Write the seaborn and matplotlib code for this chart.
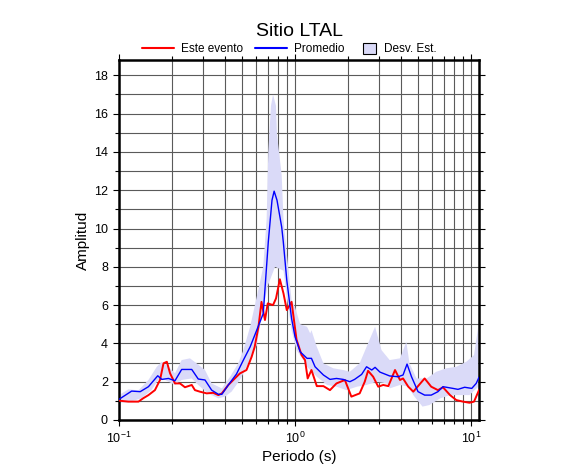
"""Site response spectrum: event vs. average with std band."""

import matplotlib

matplotlib.use("Agg")
import matplotlib.pyplot as plt
import numpy as np
import pandas as pd
import seaborn as sns
from matplotlib.lines import Line2D
from matplotlib.patches import Patch
from matplotlib.ticker import LogLocator, MultipleLocator

TITLE = "Sitio LTAL"

# Este evento (red)
event_period = [0.100, 0.113, 0.129, 0.137, 0.147, 0.160, 0.171, 0.179, 0.187, 0.195,
                0.208, 0.222, 0.237, 0.259, 0.270, 0.288, 0.315, 0.343, 0.367, 0.384,
                0.418, 0.446, 0.486, 0.530, 0.567, 0.590, 0.620, 0.645, 0.675, 0.700,
                0.750, 0.780, 0.820, 0.860, 0.898, 0.956, 1.02, 1.09, 1.14, 1.18,
                1.24, 1.33, 1.45, 1.58, 1.72, 1.92, 2.09, 2.33, 2.49, 2.60,
                2.78, 2.97, 3.17, 3.39, 3.70, 3.95, 4.11, 4.40, 4.70, 5.00,
                5.45, 5.94, 6.49, 6.93, 7.60, 8.25, 9.00, 9.80, 10.4, 11.1]
event_amp = [1.01, 0.96, 0.96, 1.13, 1.30, 1.56, 2.09, 2.96, 3.04, 2.44,
             1.91, 1.91, 1.71, 1.83, 1.56, 1.48, 1.39, 1.42, 1.30, 1.39,
             1.83, 2.09, 2.43, 2.61, 3.30, 3.82, 4.87, 6.17, 5.22, 6.09,
             6.00, 6.35, 7.35, 6.61, 5.74, 6.17, 4.20, 3.39, 3.13, 2.17,
             2.61, 1.77, 1.77, 1.56, 1.91, 2.09, 1.22, 1.39, 2.00, 2.57,
             2.26, 1.74, 1.83, 1.77, 2.61, 2.09, 2.17, 1.74, 1.48, 1.77,
             2.17, 1.74, 1.56, 1.71, 1.30, 1.04, 0.96, 0.90, 0.96, 1.56]

# Promedio (blue)
mean_period = [0.100, 0.118, 0.132, 0.147, 0.166, 0.175, 0.191, 0.208, 0.227, 0.259,
               0.282, 0.308, 0.336, 0.367, 0.384, 0.418, 0.465, 0.509, 0.556, 0.606,
               0.660, 0.705, 0.740, 0.761, 0.790, 0.840, 0.858, 0.898, 0.956, 1.00,
               1.07, 1.17, 1.24, 1.30, 1.45, 1.58, 1.72, 1.88, 2.05, 2.18,
               2.39, 2.55, 2.73, 2.85, 3.04, 3.45, 3.85, 4.11, 4.33, 4.59,
               5.00, 5.45, 5.94, 6.49, 6.93, 7.90, 8.43, 9.20, 10.1, 10.7, 11.1]
mean_amp = [1.08, 1.51, 1.48, 1.74, 2.31, 2.12, 2.17, 2.05, 2.64, 2.64,
            2.14, 2.09, 1.56, 1.34, 1.34, 1.83, 2.40, 3.13, 3.82, 4.69,
            5.56, 9.30, 11.48, 11.95, 11.48, 10.08, 9.30, 7.30, 5.30, 4.35,
            3.56, 3.22, 3.22, 2.78, 2.35, 2.12, 2.17, 2.12, 2.00, 2.12,
            2.38, 2.78, 2.61, 2.75, 2.50, 2.30, 2.26, 2.35, 2.92, 2.26,
            1.48, 1.30, 1.30, 1.48, 1.74, 1.65, 1.60, 1.71, 1.65, 1.91, 2.23]

# Desv. Est. band edges
upper_period = [0.100, 0.113, 0.129, 0.147, 0.164, 0.175, 0.191, 0.208, 0.227, 0.253,
                0.276, 0.308, 0.336, 0.384, 0.428, 0.476, 0.509, 0.556, 0.630, 0.660,
                0.690, 0.705, 0.730, 0.750, 0.780, 0.790, 0.840, 0.860, 0.910, 0.956,
                1.00, 1.07, 1.17, 1.22, 1.24, 1.33, 1.45, 1.65, 1.88, 2.05,
                2.33, 2.60, 2.85, 3.10, 3.45, 3.95, 4.29, 4.47, 4.90, 5.60,
                6.35, 7.25, 8.25, 9.40, 10.4, 11.0]
upper_amp = [1.30, 1.60, 1.55, 2.09, 2.78, 3.04, 2.78, 2.44, 3.13, 3.22,
             2.96, 2.61, 1.91, 1.65, 2.26, 2.96, 3.65, 4.87, 7.13, 8.00,
             10.5, 14.0, 16.4, 17.0, 16.4, 14.9, 12.8, 10.5, 8.17, 6.26,
             5.90, 5.00, 4.87, 4.52, 4.69, 3.82, 2.96, 2.70, 2.61, 2.52,
             2.96, 4.00, 4.87, 3.65, 3.13, 3.22, 4.08, 2.96, 2.17, 2.17,
             2.52, 2.70, 2.78, 3.04, 3.39, 4.90]
lower_period = [0.100, 0.113, 0.134, 0.153, 0.167, 0.183, 0.208, 0.227, 0.259, 0.282,
                0.320, 0.367, 0.400, 0.436, 0.486, 0.520, 0.556, 0.606, 0.650, 0.700,
                0.770, 0.860, 0.898, 0.956, 1.02, 1.14, 1.17, 1.33, 1.52, 1.72,
                1.96, 2.25, 2.55, 2.91, 3.32, 3.45, 3.95, 4.40, 4.70, 5.30,
                5.80, 6.68, 7.60, 8.60, 9.80, 11.0]
lower_amp = [0.90, 0.93, 1.13, 1.56, 2.09, 2.09, 1.83, 2.09, 2.17, 1.83,
             1.39, 1.13, 1.22, 1.48, 2.09, 2.61, 3.20, 3.90, 5.50, 7.00,
             8.00, 7.80, 6.43, 4.69, 3.65, 3.00, 2.78, 2.26, 1.83, 1.74,
             1.56, 1.74, 1.83, 2.00, 1.91, 1.65, 1.83, 1.74, 1.30, 0.70,
             0.78, 1.13, 1.30, 1.30, 1.30, 1.74]

X_LIM = (0.1, 11.1)
Y_LIM = (0, 18.8)
BAND_COLOR = "#dadaf8"


def main() -> None:
    sns.set_style("ticks")
    plt.rcParams["font.family"] = ["Liberation Sans", "DejaVu Sans"]
    plt.rcParams["mathtext.fontset"] = "custom"
    plt.rcParams["mathtext.rm"] = "Liberation Sans"
    plt.rcParams["mathtext.it"] = "Liberation Sans:italic"
    plt.rcParams["mathtext.bf"] = "Liberation Sans:bold"
    for key in ["text.color", "axes.labelcolor", "xtick.color", "ytick.color"]:
        plt.rcParams[key] = "black"

    fig = plt.figure(figsize=(5.86, 4.75), dpi=100)
    ax = fig.add_axes([119 / 586, 55 / 475, 360 / 586, 360 / 475])

    band_x = np.concatenate([upper_period, lower_period[::-1]])
    band_y = np.concatenate([upper_amp, lower_amp[::-1]])
    ax.fill(band_x, band_y, color=BAND_COLOR, lw=0, zorder=1)

    event = pd.DataFrame({"period": event_period, "amp": event_amp})
    mean = pd.DataFrame({"period": mean_period, "amp": mean_amp})
    sns.lineplot(data=event, x="period", y="amp", color="#ff0000", lw=1.4, ax=ax, zorder=3)
    sns.lineplot(data=mean, x="period", y="amp", color="#0000ff", lw=1.0, ax=ax, zorder=4)

    ax.set_xscale("log")
    ax.set_xlim(*X_LIM)
    ax.set_ylim(*Y_LIM)
    ax.xaxis.set_major_locator(LogLocator(base=10))
    ax.xaxis.set_minor_locator(LogLocator(base=10, subs=np.arange(2, 10)))
    ax.yaxis.set_major_locator(MultipleLocator(2))
    ax.yaxis.set_minor_locator(MultipleLocator(1))
    ax.grid(which="both", color="#5a5a5a", lw=0.8, zorder=0)
    ax.set_axisbelow(True)

    ax.tick_params(which="both", direction="out", top=True, right=True,
                   width=0.8, color="black", labelsize=9)
    ax.tick_params(which="major", length=4.5)
    ax.tick_params(which="minor", length=3)
    for spine in ax.spines.values():
        spine.set_linewidth(1.8)
        spine.set_color("black")

    ax.set_xlabel("Periodo (s)", fontsize=11, labelpad=3)
    ax.set_ylabel("Amplitud", fontsize=11, labelpad=3)
    ax.set_title(TITLE, fontsize=14, pad=17)

    legend_y = 1 - 49 / 475
    lines = [
        Line2D([], [], color="#ff0000", lw=1.5, label="Este evento"),
        Line2D([], [], color="#0000ff", lw=1.5, label="Promedio"),
    ]
    fig.legend(handles=lines, loc="center left", bbox_to_anchor=(142 / 586, legend_y),
               ncol=2, frameon=False, fontsize=8.5, handlelength=2.7, handletextpad=0.6,
               columnspacing=1.0, borderpad=0, borderaxespad=0)
    band = [Patch(facecolor=BAND_COLOR, edgecolor="black", lw=0.8, label="Desv. Est.")]
    fig.legend(handles=band, loc="center left", bbox_to_anchor=(363 / 586, legend_y),
               frameon=False, fontsize=8.5, handlelength=1.1, handleheight=1.1,
               handletextpad=0.7, borderpad=0, borderaxespad=0)

    fig.savefig("out.png", dpi=100)
    plt.close(fig)


if __name__ == "__main__":
    main()
